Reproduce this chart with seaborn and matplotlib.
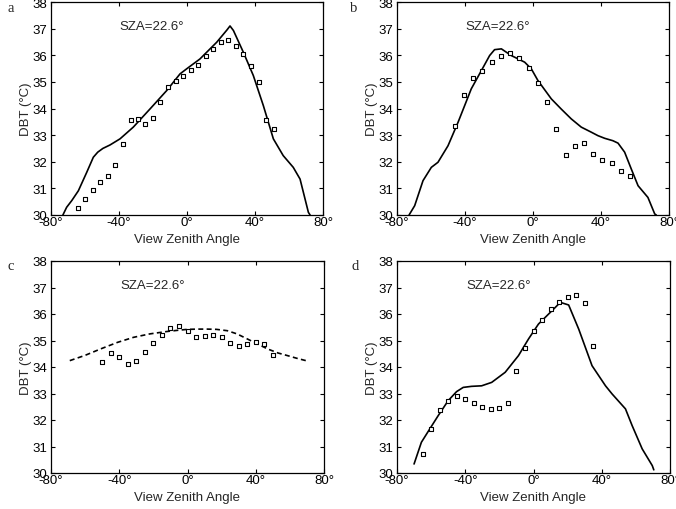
import matplotlib
matplotlib.use("Agg")
import matplotlib.pyplot as plt
import seaborn as sns
import pandas as pd

sns.set_style("ticks")
plt.rcParams["font.family"] = ["Liberation Sans", "DejaVu Sans"]

# ---- panel a ----
a_obs_vza = [-64, -59.8, -55.3, -51, -46.5, -42.2, -37.6, -33.1, -28.8, -24.5, -20.2, -15.7,
             -11.2, -6.6, -2.4, 2.2, 6.7, 11, 15.5, 19.8, 24.3, 28.8, 33.1, 37.6, 42.2, 46.5, 51]
a_obs_dbt = [30.25, 30.6, 30.94, 31.23, 31.48, 31.88, 32.68, 33.55, 33.6, 33.41, 33.65, 34.24,
             34.81, 35.04, 35.23, 35.43, 35.65, 35.98, 36.24, 36.49, 36.58, 36.33, 36.05, 35.58,
             34.99, 33.58, 33.24]
a_mod_vza = [-73, -70.8, -67.8, -63.9, -59, -55.1, -52.5, -49.5, -45.3, -39.4, -31.6, -21.8, -12,
             -4.1, -0.2, 7.6, 17.5, 23.5, 25.3, 27.3, 33.1, 39, 44.9, 50.8, 56.6, 62.5, 66.5,
             71.4, 72.4]
a_mod_dbt = [30.0, 30.29, 30.54, 30.91, 31.6, 32.17, 32.36, 32.5, 32.63, 32.86, 33.3, 33.98,
             34.67, 35.3, 35.49, 35.86, 36.49, 36.95, 37.1, 36.93, 36.12, 35.24, 34.11, 32.86,
             32.23, 31.79, 31.35, 30.1, 30.0]

# ---- panel b ----
b_obs_vza = [-46.1, -40.6, -35.1, -30, -24.3, -19, -13.5, -8.2, -2.5, 2.9, 8.4, 13.5, 19.2, 24.5,
             30, 35.3, 40.8, 46.3, 51.6, 57.1]
b_obs_dbt = [33.36, 34.52, 35.16, 35.42, 35.75, 35.96, 36.08, 35.91, 35.52, 34.96, 34.24, 33.24,
             32.26, 32.61, 32.7, 32.29, 32.05, 31.94, 31.65, 31.47]
b_mod_vza = [-72.9, -69.6, -64.7, -59.8, -55.9, -50, -44.1, -36.3, -30.4, -25.5, -22.6, -18.6,
             -12.8, -4.9, -1, 2.9, 10.8, 16.6, 22.5, 28.4, 34.3, 38.2, 42.2, 47, 50, 53.9, 57.8,
             61.8, 67.6, 71.6, 72.5]
b_mod_dbt = [30.0, 30.35, 31.29, 31.79, 31.98, 32.6, 33.48, 34.74, 35.42, 35.99, 36.21, 36.24,
             35.99, 35.74, 35.49, 35.05, 34.36, 33.98, 33.61, 33.3, 33.11, 32.98, 32.88, 32.79,
             32.7, 32.36, 31.73, 31.1, 30.66, 30.04, 30.0]

# ---- panel c ----
c_obs_vza = [-50, -45, -40, -35, -30, -25, -20, -15, -10, -5, 0, 5, 10, 15, 20, 25, 30, 35, 40,
             45, 50]
c_obs_dbt = [34.2, 34.53, 34.39, 34.1, 34.24, 34.58, 34.91, 35.22, 35.47, 35.53, 35.37, 35.14,
             35.17, 35.2, 35.12, 34.91, 34.79, 34.87, 34.93, 34.87, 34.45]
c_mod_vza = [-69, -60, -51, -41, -31.6, -22, -12, -5, 0, 6, 11.6, 17, 23.3, 29, 35, 41, 47, 53,
             58.6, 64, 69.4]
c_mod_dbt = [34.24, 34.44, 34.68, 34.93, 35.12, 35.25, 35.34, 35.39, 35.42, 35.43, 35.43, 35.42,
             35.37, 35.25, 35.06, 34.87, 34.68, 34.53, 34.43, 34.33, 34.24]

# ---- panel d ----
d_obs_vza = [-65, -60, -55, -50, -45, -40, -35, -30, -25, -20, -15, -10, -5, 0, 5, 10, 15, 20,
             25, 30, 35]
d_obs_dbt = [30.72, 31.66, 32.38, 32.7, 32.89, 32.79, 32.63, 32.5, 32.4, 32.45, 32.63, 33.86,
             34.72, 35.37, 35.79, 36.19, 36.46, 36.65, 36.72, 36.4, 34.8]
d_mod_vza = [-70, -65.7, -61.8, -55.9, -50, -45.1, -41.2, -36.3, -30.4, -24.5, -16.6, -8.8, -2.9,
             2.9, 12.8, 15.7, 20.6, 26.5, 34.3, 42.2, 46.1, 53.9, 57.8, 63.7, 69.6, 70.5]
d_mod_dbt = [30.34, 31.16, 31.56, 32.16, 32.73, 33.07, 33.23, 33.27, 33.29, 33.42, 33.8, 34.43,
             35.06, 35.62, 36.25, 36.44, 36.34, 35.43, 34.05, 33.29, 32.98, 32.42, 31.79, 30.91,
             30.28, 30.12]

panel_letters = ["a", "b", "c", "d"]
sza_text = "SZA=22.6°"
x_ticks = [-80, -40, 0, 40, 80]
x_tick_labels = ["-80°", "-40°", "0°", "40°", "80°"]
y_ticks = [30, 31, 32, 33, 34, 35, 36, 37, 38]

panels = [
    (a_obs_vza, a_obs_dbt, a_mod_vza, a_mod_dbt, "-"),
    (b_obs_vza, b_obs_dbt, b_mod_vza, b_mod_dbt, "-"),
    (c_obs_vza, c_obs_dbt, c_mod_vza, c_mod_dbt, "--"),
    (d_obs_vza, d_obs_dbt, d_mod_vza, d_mod_dbt, "-"),
]

W, H = 676, 510
FS = 9.5
fig = plt.figure(figsize=(W / 100, H / 100), dpi=100)

# axes boxes in pixels: left, right, top, bottom
boxes = [(51, 323, 3, 216), (397, 669, 3, 216), (51, 324, 262, 474), (397, 670, 262, 474)]
letter_pos = [(8, 9), (350, 9), (8, 266), (352, 266)]

for (ov, od, mv, md, ls), (l, r, t, b), letter, (lx, ly) in zip(panels, boxes, panel_letters, letter_pos):
    ax = fig.add_axes([l / W, 1 - b / H, (r - l) / W, (b - t) / H])
    mod = pd.DataFrame({"vza": mv, "dbt": md})
    obs = pd.DataFrame({"vza": ov, "dbt": od})
    sns.lineplot(data=mod, x="vza", y="dbt", ax=ax, color="black", lw=1.2,
                 sort=False, estimator=None)
    if ls == "--":
        ax.lines[-1].set_dashes((3, 2))
    sns.scatterplot(data=obs, x="vza", y="dbt", ax=ax, marker="s", s=10,
                    facecolor="white", edgecolor="black", linewidth=0.8, zorder=3)
    ax.set_xlim(-80, 80)
    ax.set_ylim(30, 38)
    ax.set_xticks(x_ticks)
    ax.set_xticklabels(x_tick_labels)
    ax.set_yticks(y_ticks)
    ax.tick_params(direction="in", length=3, width=0.8, labelsize=FS,
                   top=True, right=True, colors="black")
    ax.tick_params(axis="x", pad=1)
    ax.tick_params(axis="y", pad=3)
    for s in ax.spines.values():
        s.set_visible(True)
        s.set_linewidth(0.9)
        s.set_color("black")
    ax.set_xlabel("View Zenith Angle", fontsize=FS, labelpad=3)
    ax.set_ylabel("DBT (°C)", fontsize=FS, labelpad=0)
    ax.text(-39.5, 37.1, sza_text, fontsize=FS, va="center", ha="left")
    fig.text(lx / W, 1 - ly / H, letter, fontsize=10.5, family="Liberation Serif",
             va="center", ha="left")

fig.savefig("out.png", dpi=100)
